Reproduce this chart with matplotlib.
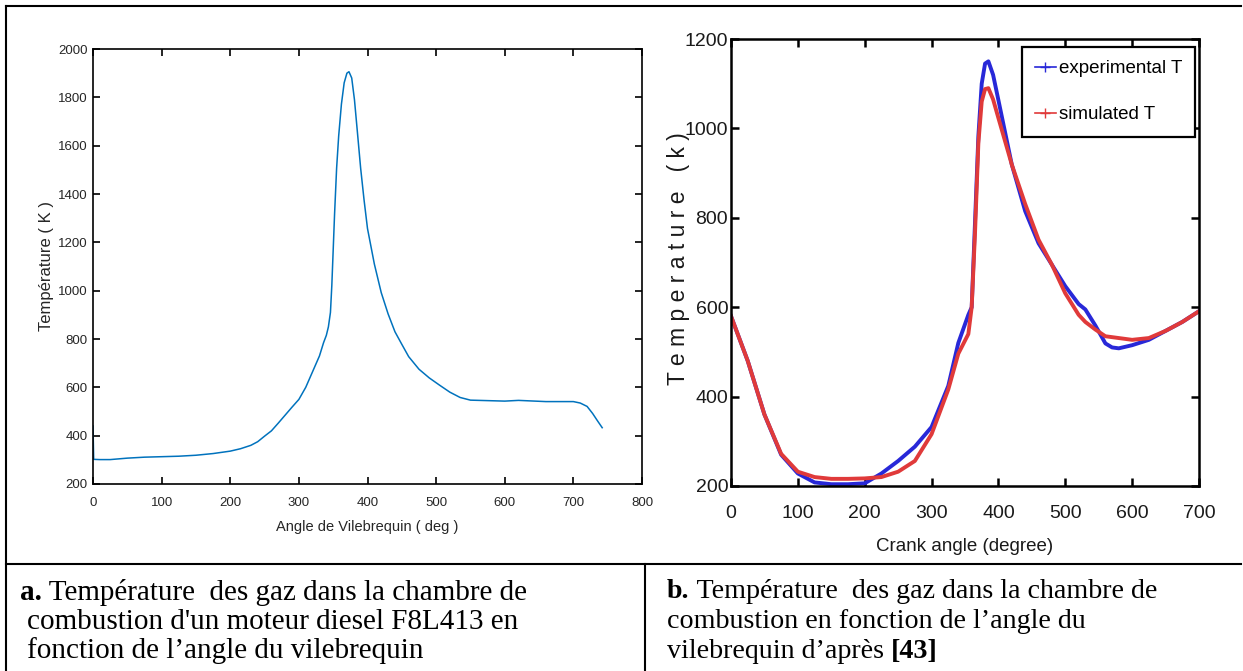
import numpy as np
import matplotlib.pyplot as plt
from matplotlib.lines import Line2D

# left plot: gas temperature, diesel F8L413 (MATLAB output)
angle_a = [0, 1, 10, 25, 50, 75, 100, 125, 150, 175, 200, 215, 230, 240, 250,
           260, 270, 280, 290, 300, 310, 320, 330, 336, 340, 343, 346, 348, 350,
           352, 355, 358, 362, 366, 370, 373, 377, 381, 385, 390, 395, 400, 410,
           420, 430, 440, 450, 460, 475, 490, 505, 520, 535, 550, 600, 620, 660,
           700, 710, 720, 728, 735, 742]
temp_a = [440, 302, 301, 301, 307, 311, 313, 315, 319, 326, 336, 346, 360, 375,
          398, 420, 452, 485, 518, 550, 600, 665, 730, 785, 815, 850, 910, 1021,
          1168, 1316, 1507, 1640, 1772, 1860, 1900, 1906, 1880, 1790, 1665, 1507,
          1375, 1257, 1110, 992, 904, 830, 778, 727, 675, 639, 609, 580, 558,
          547, 543, 546, 541, 541, 535, 521, 492, 462, 433]

# right plot: ref [43]
angle_b = [0, 25, 50, 75, 100, 125, 150, 175, 200, 225, 250, 275, 300, 325,
           340, 355, 360, 365, 370, 375, 380, 385, 392, 400, 420, 440, 460, 480,
           500, 520, 530, 545, 560, 570, 580, 600, 625, 650, 675, 700]
temp_sim = [580, 480, 360, 272, 232, 220, 216, 216, 217, 220, 232, 256, 316,
            416, 496, 540, 600, 767, 967, 1060, 1088, 1090, 1065, 1023, 919,
            831, 751, 695, 631, 583, 567, 550, 535, 533, 531, 527, 531, 547, 567,
            591]
temp_exp = [580, 480, 360, 270, 228, 208, 204, 204, 206, 228, 256, 288, 332,
            424, 520, 583, 600, 791, 983, 1100, 1145, 1150, 1120, 1063, 919,
            815, 743, 695, 647, 607, 595, 559, 519, 510, 508, 515, 527, 547, 567,
            591]

sans = 'Liberation Sans'
serif = 'Liberation Serif'

W, H = 1243, 671
fig = plt.figure(figsize=(W / 100, H / 100), dpi=100)


def box(x0, y0, x1, y1):
    # pixel box -> figure fraction
    return [x0 / W, 1 - y1 / H, (x1 - x0) / W, (y1 - y0) / H]


def matlab_axes(ax, lw, tl):
    for s in ax.spines.values():
        s.set_linewidth(lw)
    ax.tick_params(direction='in', top=True, right=True, length=tl, width=lw)


# ---- left ----
ax1 = fig.add_axes(box(93, 49, 642, 484))
ax1.plot(angle_a, temp_a, color='#0072BD', lw=1.1)
ax1.set_xlim(0, 800)
ax1.set_ylim(200, 2000)
ax1.set_xticks(np.arange(0, 801, 100))
ax1.set_yticks(np.arange(200, 2001, 200))
matlab_axes(ax1, 1.2, 5)
ax1.tick_params(axis='x', pad=9)
ax1.tick_params(axis='y', pad=4)
for lab in ax1.get_xticklabels() + ax1.get_yticklabels():
    lab.set_fontfamily(sans)
    lab.set_fontsize(9.5)
    lab.set_color('#262626')
ax1.set_xlabel('Angle de Vilebrequin ( deg )', family=sans, fontsize=10.5, color='#262626')
ax1.xaxis.set_label_coords((367 - 93) / 549, -(520 - 484) / 435)
ax1.set_ylabel('Température ( K )', family=sans, fontsize=12, color='#262626', va='center')
ax1.yaxis.set_label_coords((47 - 93) / 549, (484 - 266) / 435)

# ---- right ----
ax2 = fig.add_axes(box(731, 39, 1199, 486))
ax2.plot(angle_b, temp_exp, color='#2828d8', lw=2.8, label='experimental T')
ax2.plot(angle_b, temp_sim, color='#e03a3a', lw=2.8, label='simulated T')
ax2.set_xlim(0, 700)
ax2.set_ylim(200, 1200)
ax2.set_xticks(np.arange(0, 701, 100))
ax2.set_yticks(np.arange(200, 1201, 200))
matlab_axes(ax2, 1.8, 6)
ax2.tick_params(axis='x', pad=14)
ax2.tick_params(axis='y', pad=2)
for lab in ax2.get_xticklabels() + ax2.get_yticklabels():
    lab.set_fontfamily(sans)
    lab.set_fontsize(14)
    lab.set_color('#1a1a1a')
ax2.set_xlabel('Crank angle (degree)', family=sans, fontsize=13.5, color='#1a1a1a')
ax2.xaxis.set_label_coords((965 - 731) / 468, -(538 - 486) / 447)
ax2.set_ylabel('T e m p e r a t u r e   ( k )', family=sans, fontsize=16.5,
               color='#1a1a1a', va='center')
ax2.yaxis.set_label_coords((679 - 731) / 468, (486 - 259) / 447)
handles = [Line2D([], [], color='#2828d8', marker='+', ms=7, lw=1.2),
           Line2D([], [], color='#e03a3a', marker='+', ms=7, lw=1.2)]
leg = ax2.legend(handles, ['experimental T', 'simulated T'], loc='upper right',
                 bbox_to_anchor=(0.9915, 0.982), prop={'family': sans, 'size': 13.5},
                 fancybox=False, edgecolor='black', framealpha=1, handlelength=1.1,
                 handletextpad=0.15, borderpad=0.7, labelspacing=1.55, borderaxespad=0)
leg.get_frame().set_linewidth(1.6)

# ---- table rules ----
rules = [((6, 1241), (6, 6)), ((6, 6), (6, 671)), ((6, 1241), (564, 564)),
         ((645, 645), (564, 671))]
for xs, ys in rules:
    fig.add_artist(Line2D([x / W for x in xs], [1 - y / H for y in ys],
                          transform=fig.transFigure, color='black', lw=1.5))

# ---- captions ----
line_y = [592, 622, 651]
renderer = fig.canvas.get_renderer()


def runs(x_px, y_px, parts, size):
    # consecutive text pieces, some bold
    x = x_px
    for txt, bold in parts:
        t = fig.text(x / W, 1 - y_px / H, txt, family=serif, fontsize=size, va='center',
                     weight='bold' if bold else 'normal')
        x += t.get_window_extent(renderer).width


runs(20, line_y[0], [('a.', True), (' Température  des gaz dans la chambre de', False)], 21)
runs(27, line_y[1], [("combustion d'un moteur diesel F8L413 en", False)], 21)
runs(27, line_y[2], [('fonction de l’angle du vilebrequin', False)], 21)
runs(667, line_y[0], [('b.', True), (' Température  des gaz dans la chambre de', False)], 20.2)
runs(667, line_y[1], [('combustion en fonction de l’angle du', False)], 20.2)
runs(667, line_y[2], [('vilebrequin d’après ', False), ('[43]', True)], 20.2)

fig.savefig('out.png', dpi=100)
